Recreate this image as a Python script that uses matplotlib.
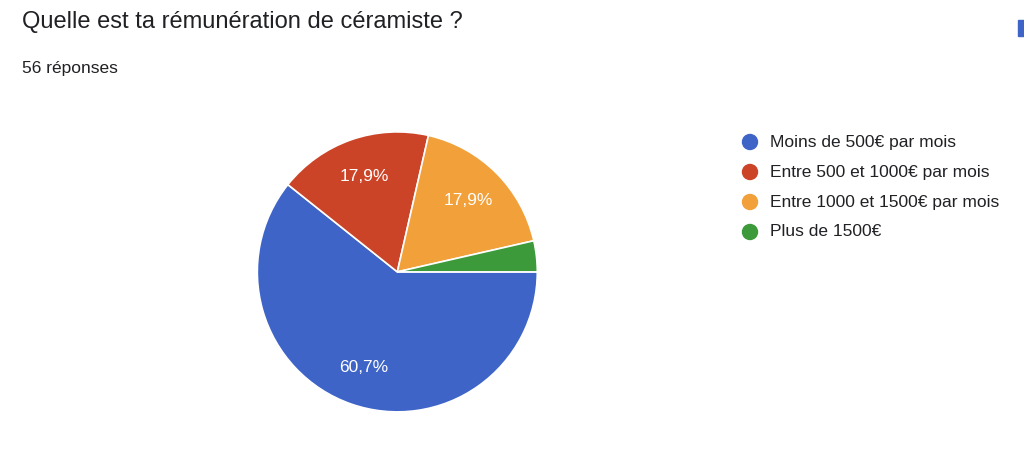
import matplotlib
matplotlib.use("Agg")
import matplotlib.pyplot as plt
from matplotlib.patches import Rectangle

labels = ["Moins de 500€ par mois", "Entre 500 et 1000€ par mois",
          "Entre 1000 et 1500€ par mois", "Plus de 1500€"]
values = [34, 10, 10, 2]
colors = ["#3f64c8", "#cc4427", "#f2a03a", "#3d9a3a"]

plt.rcParams['font.family'] = ['Liberation Sans', 'DejaVu Sans']
fig = plt.figure(figsize=(10.24, 4.68), dpi=100)
fig.patch.set_facecolor("white")

ax = fig.add_axes([0.388 - 0.1367, 0.419 - 0.2991, 0.2734, 0.5983])

def fmt(p):
    return ("%.1f%%" % p).replace(".", ",") if p > 5 else ""

wedges, texts, autotexts = ax.pie(values, colors=colors, startangle=0, counterclock=False,
                                  autopct=fmt, pctdistance=0.72,
                                  wedgeprops=dict(edgecolor="white", linewidth=1.2),
                                  textprops=dict(color="white", fontsize=12.5))
ax.set_xlim(-1, 1)
ax.set_ylim(-1, 1)
ax.set_aspect("equal")

fig.text(22/1024, 1 - 22/468, "Quelle est ta rémunération de céramiste ?", fontsize=17,
         color="#202124", va="center", ha="left")
fig.text(22/1024, 1 - 68/468, "56 réponses", fontsize=12.5, color="#202124", va="center", ha="left")

for i, (lab, c) in enumerate(zip(labels, colors)):
    y = 1 - (142 + 30 * i) / 468
    fig.patches.append(matplotlib.patches.Ellipse((750/1024, y), 15/1024, 15/468,
                       transform=fig.transFigure, color=c))
    fig.text(770/1024, y, lab, fontsize=12.5, color="#202124", va="center", ha="left")

fig.patches.append(Rectangle((1018/1024, 1 - 36/468), 8/1024, 16/468,
                             transform=fig.transFigure, color="#3f64c8"))

fig.savefig("out.png", dpi=100)
